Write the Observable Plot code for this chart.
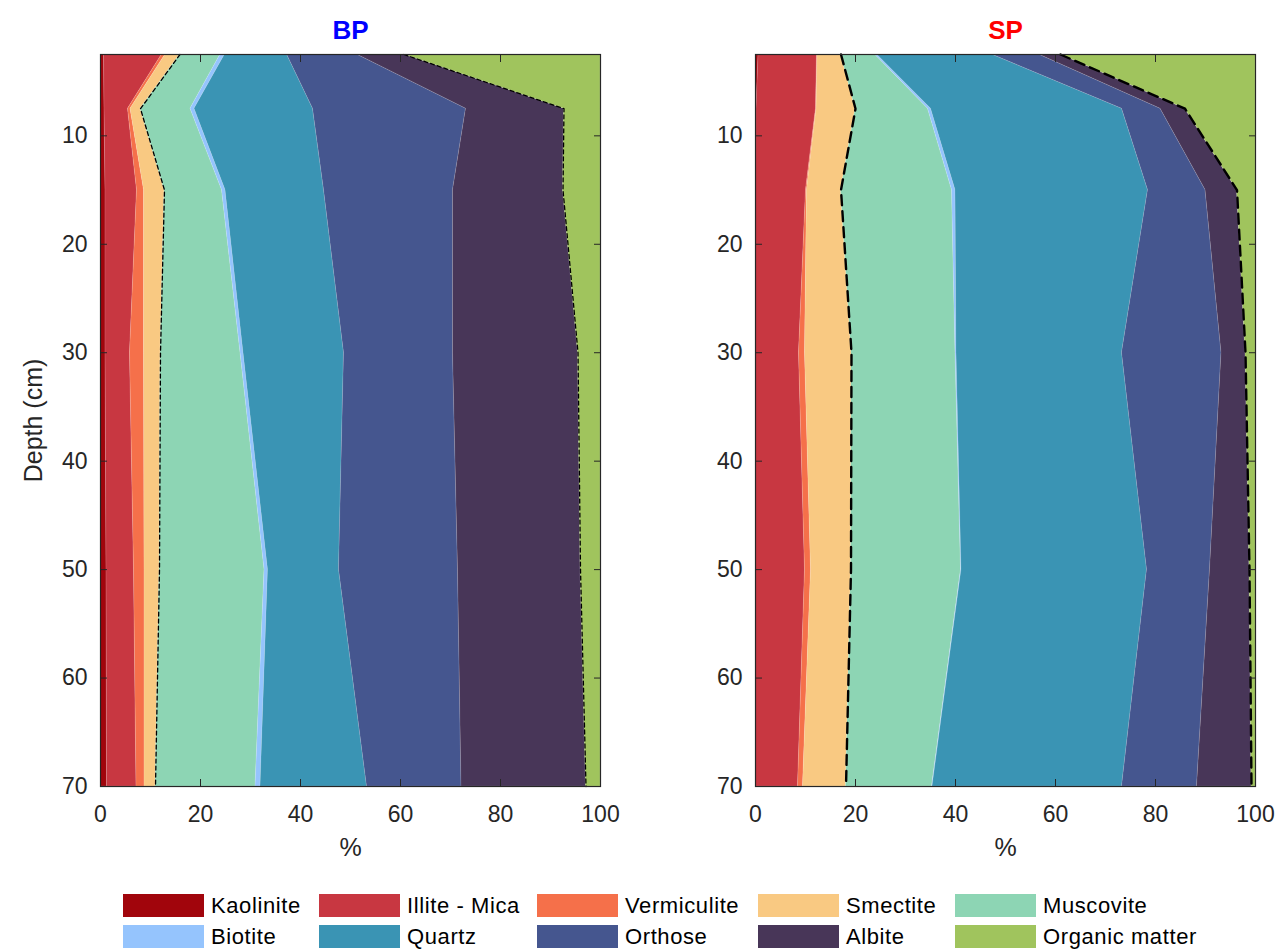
<!DOCTYPE html>
<html><head><meta charset="utf-8">
<script src="https://cdn.jsdelivr.net/npm/d3@7"></script>
<script src="https://cdn.jsdelivr.net/npm/@observablehq/plot@0.6"></script>
<style>
body{margin:0;background:#fff;font-family:"Liberation Sans",Arial,sans-serif;}
#root{position:relative;width:1284px;height:951px;overflow:hidden;}
.panel{position:absolute;top:0;}
.item{position:absolute;display:flex;align-items:center;height:23px;font-size:22px;letter-spacing:0.6px;color:#000;white-space:nowrap;}
.sw{width:81px;height:23px;margin-right:7px;flex:none;}
</style></head><body>
<div id="root"><div id="bp" class="panel" style="left:0"></div><div id="sp" class="panel" style="left:655px"></div><div id="legend"></div></div>
<script>
const minerals = ["Kaolinite","Illite - Mica","Vermiculite","Smectite","Muscovite","Biotite","Quartz","Orthose","Albite","Organic matter"];
const colors = ["#a1050c","#c83741","#f5704a","#f9c982","#8dd5b4","#95c4fd","#3a94b4","#45568f","#483658","#a0c45d"];
const depths = [2.5, 7.5, 15, 30, 50, 70];
const xTicks = [0, 20, 40, 60, 80, 100];
const yTicks = [10, 20, 30, 40, 50, 60, 70];
// percent of each mineral (rows in mineral order) at each depth (columns)
const bpPercent = [
  [0.7, 0.8, 1.0, 1.0, 1.2, 1.3],
  [11.6, 4.7, 6.3, 4.9, 5.5, 5.9],
  [0.7, 0.5, 1.4, 2.8, 2.1, 1.6],
  [2.9, 2.0, 4.1, 3.3, 3.0, 2.2],
  [8.1, 10.0, 11.5, 16.0, 21.0, 20.0],
  [0.9, 0.8, 0.7, 0.6, 0.7, 1.0],
  [12.4, 23.7, 19.7, 20.1, 14.2, 21.3],
  [14.0, 30.6, 25.8, 21.8, 23.8, 18.9],
  [9.4, 19.6, 22.0, 25.0, 24.5, 24.9],
  [39.3, 7.3, 7.5, 4.5, 4.0, 2.9]
];
const spPercent = [
  [0.6, 0.2, 0.1, 0.1, 0.1, 0.1],
  [11.7, 11.9, 10.0, 8.6, 9.8, 8.4],
  [0.1, 0.1, 0.2, 1.2, 1.2, 1.0],
  [4.7, 7.8, 6.8, 9.3, 8.0, 8.6],
  [6.8, 14.5, 22.2, 20.8, 22.0, 17.2],
  [0.4, 0.6, 0.7, 0.2, 0.1, 0.1],
  [23.0, 38.2, 38.5, 33.1, 37.1, 37.9],
  [9.4, 7.7, 11.5, 19.9, 12.6, 15.0],
  [4.3, 4.9, 6.3, 4.8, 7.9, 10.9],
  [39.0, 14.1, 3.7, 2.0, 1.2, 0.8]
];

function panel(title, titleColor, values, dash, dashWidth, yLabel, width, marginRight) {
  const rows = [];
  minerals.forEach((m, i) => depths.forEach((d, j) => rows.push({mineral: m, depth: d, value: values[i][j]})));
  const cum = k => depths.map((d, j) => ({depth: d, x: d3.sum(values.slice(0, k), v => v[j])}));
  return Plot.plot({
    width, height: 870, marginLeft: 100, marginRight, marginTop: 54, marginBottom: 84,
    style: {fontFamily: "'Liberation Sans', Arial, sans-serif", fontSize: "23px", color: "#262626", background: "white"},
    x: {domain: [0, 100]},
    y: {domain: [2.5, 70], reverse: true},
    color: {domain: minerals, range: colors},
    marks: [
      Plot.areaX(rows, {y: "depth", x: "value", fill: "mineral", order: minerals, curve: "linear", stroke: "white", strokeOpacity: 0.2, strokeWidth: 0.6}),
      Plot.lineX(cum(4), {x: "x", y: "depth", stroke: "black", strokeWidth: dashWidth, strokeDasharray: dash}),
      Plot.lineX(cum(9), {x: "x", y: "depth", stroke: "black", strokeWidth: dashWidth, strokeDasharray: dash}),
      Plot.frame({stroke: "#262626", strokeWidth: 1.2}),
      Plot.axisX({anchor: "bottom", ticks: xTicks, tickSize: -7, tickPadding: 26, fontSize: 23, label: null, fill: "#262626"}),
      Plot.axisX({anchor: "top", ticks: xTicks, tickSize: -7, tickFormat: () => "", label: null}),
      Plot.axisY({anchor: "left", ticks: yTicks, tickSize: -7, tickPadding: 20, fontSize: 23, label: null, fill: "#262626"}),
      Plot.axisY({anchor: "right", ticks: yTicks, tickSize: -7, tickFormat: () => "", label: null}),
      Plot.text(["%"], {frameAnchor: "bottom", dy: 61, lineAnchor: "middle", textAnchor: "middle", fill: "#262626", fontSize: 25}),
      yLabel ? Plot.text([yLabel], {frameAnchor: "left", dx: -67, rotate: -90, textAnchor: "middle", lineAnchor: "middle", fill: "#262626", fontSize: 25}) : null,
      Plot.text([title], {frameAnchor: "top", dy: -34, fill: titleColor, fontWeight: "bold", fontSize: 26})
    ]
  });
}

document.getElementById("bp").append(panel("BP", "#0000ff", bpPercent, "4,3", 1.3, "Depth (cm)", 640, 40));
document.getElementById("sp").append(panel("SP", "#ff0000", spPercent, "10,6", 2.4, null, 629, 29));

const legendX = [123, 319, 537, 758, 955];
const legendY = [894, 925];
const legend = document.getElementById("legend");
minerals.forEach((m, i) => {
  const it = document.createElement("div");
  it.className = "item";
  it.style.left = legendX[i % 5] + "px";
  it.style.top = legendY[Math.floor(i / 5)] + "px";
  const sw = document.createElement("div");
  sw.className = "sw";
  sw.style.background = colors[i];
  const tx = document.createElement("span");
  tx.textContent = m;
  it.append(sw, tx);
  legend.append(it);
});
</script></body></html>
